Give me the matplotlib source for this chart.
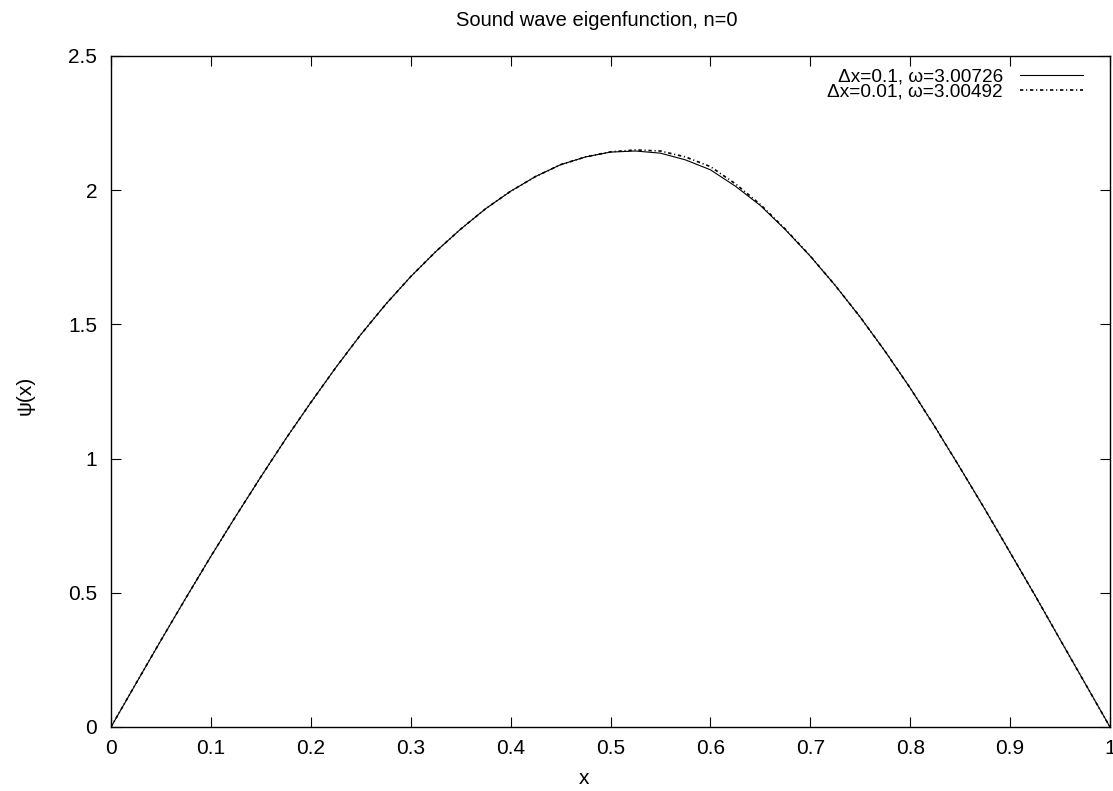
import matplotlib
matplotlib.use("Agg")
import matplotlib.pyplot as plt
from matplotlib.ticker import FormatStrFormatter

plt.rcParams['font.family'] = ['Liberation Sans', 'DejaVu Sans']
plt.rcParams['lines.scale_dashes'] = False

# Data
x_coarse = [0.000, 0.025, 0.050, 0.075, 0.100, 0.125, 0.150, 0.175, 0.200, 0.225,
            0.250, 0.275, 0.300, 0.325, 0.350, 0.375, 0.400, 0.425, 0.450, 0.475,
            0.500, 0.525, 0.550, 0.575, 0.600, 0.625, 0.650, 0.675, 0.700, 0.725,
            0.750, 0.775, 0.800, 0.825, 0.850, 0.875, 0.900, 0.925, 0.950, 0.975, 1.000]
psi_coarse = [0.000, 0.162, 0.323, 0.481, 0.636, 0.786, 0.932, 1.074, 1.209, 1.339,
              1.462, 1.575, 1.678, 1.771, 1.855, 1.931, 1.996, 2.051, 2.095, 2.124,
              2.142, 2.146, 2.138, 2.113, 2.076, 2.015, 1.943, 1.853, 1.754, 1.645,
              1.527, 1.399, 1.263, 1.117, 0.965, 0.810, 0.650, 0.490, 0.326, 0.163, 0.000]

x_fine = [0.000, 0.025, 0.050, 0.075, 0.100, 0.125, 0.150, 0.175, 0.200, 0.225,
          0.250, 0.275, 0.300, 0.325, 0.350, 0.375, 0.400, 0.425, 0.450, 0.475,
          0.500, 0.525, 0.550, 0.575, 0.600, 0.625, 0.650, 0.675, 0.700, 0.725,
          0.750, 0.775, 0.800, 0.825, 0.850, 0.875, 0.900, 0.925, 0.950, 0.975, 1.000]
psi_fine = [0.000, 0.162, 0.323, 0.481, 0.636, 0.786, 0.932, 1.074, 1.209, 1.339,
            1.462, 1.575, 1.678, 1.771, 1.855, 1.931, 1.996, 2.051, 2.095, 2.124,
            2.143, 2.150, 2.146, 2.124, 2.088, 2.024, 1.947, 1.855, 1.755, 1.645,
            1.527, 1.399, 1.263, 1.117, 0.965, 0.810, 0.650, 0.490, 0.326, 0.163, 0.000]

label_coarse = "Δx=0.1, ω=3.00726"
label_fine = "Δx=0.01, ω=3.00492"
title = "Sound wave eigenfunction, n=0"
xlabel = "x"
ylabel = "ψ(x)"
xticks = [0, 0.1, 0.2, 0.3, 0.4, 0.5, 0.6, 0.7, 0.8, 0.9, 1.0]
yticks = [0, 0.5, 1.0, 1.5, 2.0, 2.5]

W, H = 1113, 791
fig = plt.figure(figsize=(W / 100, H / 100), dpi=100)
L, R, T, B = 111, 1110, 56, 727
ax = fig.add_axes([L / W, 1 - B / H, (R - L) / W, (B - T) / H])

l1, = ax.plot(x_coarse, psi_coarse, color='black', lw=0.8, label=label_coarse)
l2, = ax.plot(x_fine, psi_fine, color='black', lw=1.2, label=label_fine)
l2.set_dashes([2.4, 2.0, 0.8, 2.0])

ax.set_xlim(0, 1)
ax.set_ylim(0, 2.5)
ax.set_xticks(xticks)
ax.set_yticks(yticks)
ax.xaxis.set_major_formatter(FormatStrFormatter('%g'))
ax.yaxis.set_major_formatter(FormatStrFormatter('%g'))
ax.tick_params(direction='in', length=7, width=0.8, top=True, right=True,
               labelsize=15, colors='black')
ax.tick_params(axis='x', pad=9)
ax.tick_params(axis='y', pad=10)
for s in ax.spines.values():
    s.set_linewidth(1.0)

leg = ax.legend(handles=[l1, l2], loc='upper right', frameon=False, markerfirst=False,
                fontsize=13.7, handlelength=3.3, handletextpad=0.9, labelspacing=-0.12,
                borderpad=0.0, borderaxespad=0.0,
                bbox_to_anchor=(1 - 27 / (R - L), 1 - 12 / (B - T)))

fig.text(597 / W, 1 - 20 / H, title, ha='center', va='center', fontsize=14.5)
fig.text(584 / W, 1 - 778 / H, xlabel, ha='center', va='center', fontsize=15)
fig.text(25 / W, 1 - 395 / H, ylabel, ha='center', va='center', fontsize=15, rotation=90)

fig.savefig("out.png", dpi=100)
